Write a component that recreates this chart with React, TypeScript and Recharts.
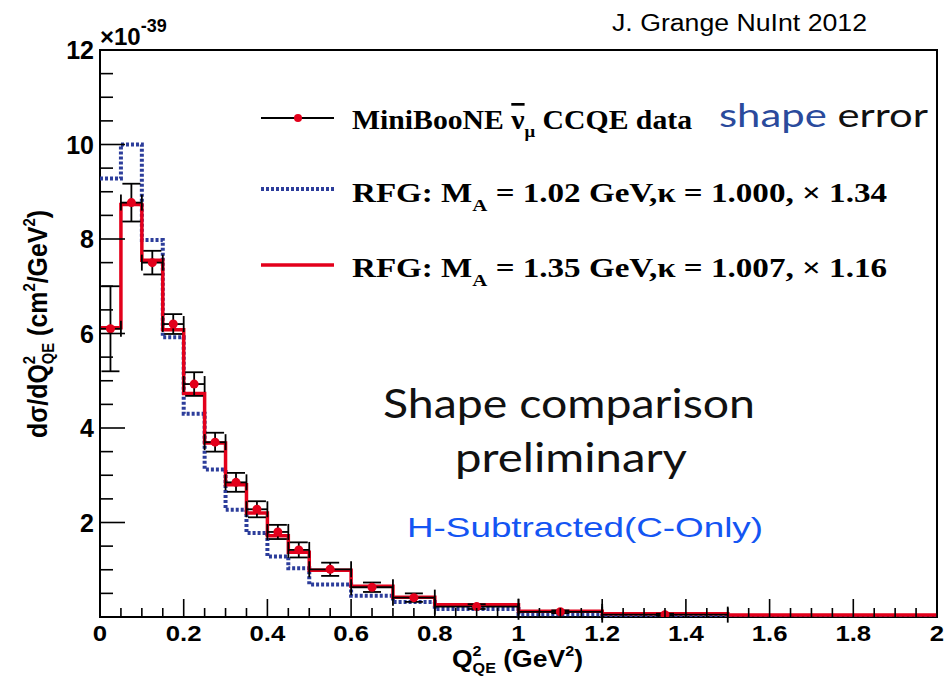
import React from "react";
import { ComposedChart, Line, Scatter, ErrorBar, XAxis, YAxis, ReferenceArea } from "recharts";

// Q2_QE bin edges (GeV^2)
const binEdges = [0, 0.05, 0.1, 0.15, 0.2, 0.25, 0.3, 0.35, 0.4, 0.45, 0.5, 0.6, 0.7, 0.8, 1.0, 1.2, 1.5, 2.0];

// MiniBooNE anti-numu CCQE data (x1e-39), shape error
const dataValues = [6.1, 8.77, 7.5, 6.2, 4.93, 3.7, 2.85, 2.28, 1.8, 1.42, 1.01, 0.63, 0.41, 0.22, 0.11, 0.05];
const dataErrors = [0.9, 0.4, 0.25, 0.21, 0.25, 0.2, 0.2, 0.17, 0.15, 0.16, 0.14, 0.1, 0.09, 0.05, 0.03, 0.02];

// RFG predictions per bin
const rfgMa102 = [9.28, 10.0, 7.98, 5.92, 4.3, 3.12, 2.27, 1.78, 1.28, 1.03, 0.69, 0.45, 0.32, 0.17, 0.06, 0.02, 0.01];
const rfgMa135 = [6.12, 8.73, 7.55, 6.08, 4.73, 3.68, 2.8, 2.2, 1.72, 1.37, 0.99, 0.65, 0.42, 0.26, 0.12, 0.07, 0.04];

const xMajorTicks = [0, 0.2, 0.4, 0.6, 0.8, 1, 1.2, 1.4, 1.6, 1.8, 2];
const yMajorTicks = [0, 2, 4, 6, 8, 10, 12];

const RED = "#e3001b";
const BLUE = "#2c3d9b";
const SANS = "'Liberation Sans', Arial, sans-serif";
const SERIF = "'Liberation Serif', 'Times New Roman', serif";
const HUMANIST = "Lato, 'Open Sans', sans-serif";

// histogram outline: one point per bin edge, last edge repeats last bin
const stepSeries = (vals: number[]) =>
  binEdges.map((x, i) => ({ x, y: vals[Math.min(i, vals.length - 1)] }));

const dataPoints = dataValues.map((y, i) => ({
  x: (binEdges[i] + binEdges[i + 1]) / 2,
  y,
  ex: (binEdges[i + 1] - binEdges[i]) / 2,
  ey: dataErrors[i],
}));

const subdivide = (majors: number[], n: number) => {
  const out: number[] = [];
  for (let i = 0; i < majors.length - 1; i++)
    for (let k = 0; k < n; k++)
      out.push(Math.round((majors[i] + ((majors[i + 1] - majors[i]) * k) / n) * 1000) / 1000);
  out.push(majors[majors.length - 1]);
  return out;
};
const xTicks = subdivide(xMajorTicks, 4);
const yTicks = subdivide(yMajorTicks, 4);
const isMajor = (v: number, majors: number[]) => majors.some((m) => Math.abs(m - v) < 1e-6);

// ROOT style: ticks point into the frame
const XTick = ({ x, y, payload }: any) => {
  const major = isMajor(payload.value, xMajorTicks);
  return (
    <g>
      <line x1={x} x2={x} y1={y} y2={y - (major ? 18 : 9)} stroke="#000" strokeWidth={1.6} />
      {major && (
        <text transform={`translate(${x},${y + 24}) scale(1.12,1)`} textAnchor="middle" fontFamily={SANS} fontWeight={700} fontSize={23} fill="#000">
          {payload.value}
        </text>
      )}
    </g>
  );
};

const YTick = ({ x, y, payload }: any) => {
  const major = isMajor(payload.value, yMajorTicks);
  return (
    <g>
      <line x1={x} x2={x + (major ? 25 : 13)} y1={y} y2={y} stroke="#000" strokeWidth={1.6} />
      {major && payload.value !== 0 && (
        <text x={x - 6} y={y + 9} textAnchor="end" fontFamily={SANS} fontWeight={700} fontSize={25} fill="#000">
          {payload.value}
        </text>
      )}
    </g>
  );
};

const Dot = (p: any) => <circle cx={p.cx} cy={p.cy} r={4.5} fill={RED} />;

export default function App() {
  return (
    <div style={{ position: "absolute", left: 0, top: 0, width: 947, height: 680, background: "#fff" }}>
      <ComposedChart width={947} height={680} margin={{ top: 50, right: 10, bottom: 33, left: 40 }}>
        <XAxis
          dataKey="x"
          type="number"
          domain={[0, 2]}
          ticks={xTicks}
          interval={0}
          tick={XTick}
          tickSize={0}
          tickMargin={0}
          tickLine={false}
          axisLine={false}
          height={30}
          allowDataOverflow
        />
        <YAxis
          type="number"
          domain={[0, 12]}
          ticks={yTicks}
          interval={0}
          tick={YTick}
          tickSize={0}
          tickMargin={0}
          tickLine={false}
          axisLine={false}
          width={60}
          allowDataOverflow
        />
        <Line
          data={stepSeries(rfgMa102)}
          dataKey="y"
          type="stepAfter"
          stroke={BLUE}
          strokeWidth={4}
          strokeDasharray="3 2"
          dot={false}
          isAnimationActive={false}
        />
        <Line
          data={stepSeries(rfgMa135)}
          dataKey="y"
          type="stepAfter"
          stroke={RED}
          strokeWidth={3.5}
          dot={false}
          isAnimationActive={false}
        />
        <Scatter data={dataPoints} dataKey="y" shape={Dot} isAnimationActive={false}>
          <ErrorBar dataKey="ex" direction="x" width={8} stroke="#000" strokeWidth={1.8} isAnimationActive={false} />
          <ErrorBar dataKey="ey" direction="y" width={9} stroke="#000" strokeWidth={1.8} isAnimationActive={false} />
        </Scatter>
        <ReferenceArea x1={0} x2={2} y1={0} y2={12} fill="none" stroke="#000" strokeWidth={2} />
      </ComposedChart>

      <svg width={947} height={680} style={{ position: "absolute", left: 0, top: 0, pointerEvents: "none" }}>
        <text x={612} y={31} fontFamily={SANS} fontSize={23} textLength={255} lengthAdjust="spacingAndGlyphs">
          J. Grange NuInt 2012
        </text>
        <text x={100} y={45} fontFamily={SANS} fontWeight={700} fontSize={24}>
          ×10
          <tspan fontSize={18} dy={-13}>-39</tspan>
        </text>

        {/* y title */}
        <text transform="translate(47,438) rotate(-90)" fontFamily={SANS} fontWeight={700} fontSize={27} textLength={228} lengthAdjust="spacingAndGlyphs">
          dσ/dQ
          <tspan fontSize={16} dy={-12}>2</tspan>
          <tspan fontSize={16} dx={-8.9} dy={19}>QE</tspan>
          <tspan dy={-7}>{" (cm"}</tspan>
          <tspan fontSize={16} dy={-12}>2</tspan>
          <tspan dy={12}>/GeV</tspan>
          <tspan fontSize={16} dy={-12}>2</tspan>
          <tspan dy={12}>)</tspan>
        </text>

        {/* x title */}
        <text x={452} y={667} fontFamily={SANS} fontWeight={700} fontSize={23} textLength={131} lengthAdjust="spacingAndGlyphs">
          Q
          <tspan fontSize={14} dy={-11}>2</tspan>
          <tspan fontSize={14} dx={-7.8} dy={17}>QE</tspan>
          <tspan dy={-6}>{" (GeV"}</tspan>
          <tspan fontSize={14} dy={-11}>2</tspan>
          <tspan dy={11}>)</tspan>
        </text>

        {/* legend */}
        <line x1={261} x2={334} y1={118} y2={118} stroke="#000" strokeWidth={2} />
        <circle cx={298} cy={118} r={4} fill={RED} />
        <line x1={261} x2={334} y1={189} y2={189} stroke={BLUE} strokeWidth={4} strokeDasharray="3 2" />
        <line x1={261} x2={334} y1={265} y2={265} stroke={RED} strokeWidth={3.5} />

        <text x={352} y={129} fontFamily={SERIF} fontWeight={700} fontSize={27} textLength={340} lengthAdjust="spacingAndGlyphs">
          {"MiniBooNE "}
          <tspan style={{ textDecoration: "overline" }}>ν</tspan>
          <tspan fontSize={17} dy={8}>μ</tspan>
          <tspan dy={-8}>{" CCQE data"}</tspan>
        </text>
        <text x={719} y={127} fontFamily={HUMANIST} fontSize={33} fill="#111" textLength={209} lengthAdjust="spacingAndGlyphs">
          <tspan fill="#2a4a9c">shape</tspan>
          {" error"}
        </text>

        <text x={352} y={202} fontFamily={SERIF} fontWeight={700} fontSize={27} textLength={535} lengthAdjust="spacingAndGlyphs">
          {"RFG: M"}
          <tspan fontSize={17} dy={9}>A</tspan>
          <tspan dy={-9}>{" = 1.02 GeV,κ = 1.000, × 1.34"}</tspan>
        </text>
        <text x={352} y={277} fontFamily={SERIF} fontWeight={700} fontSize={27} textLength={535} lengthAdjust="spacingAndGlyphs">
          {"RFG: M"}
          <tspan fontSize={17} dy={9}>A</tspan>
          <tspan dy={-9}>{" = 1.35 GeV,κ = 1.007, × 1.16"}</tspan>
        </text>

        {/* annotations */}
        <text x={383} y={418} fontFamily={HUMANIST} fontSize={40} fill="#111" textLength={372} lengthAdjust="spacingAndGlyphs">
          Shape comparison
        </text>
        <text x={455} y={472} fontFamily={HUMANIST} fontSize={40} fill="#111" textLength={232} lengthAdjust="spacingAndGlyphs">
          preliminary
        </text>
        <text x={407} y={537} fontFamily={SANS} fontSize={28} fill="#1455f3" textLength={356} lengthAdjust="spacingAndGlyphs">
          H-Subtracted(C-Only)
        </text>
      </svg>
    </div>
  );
}
